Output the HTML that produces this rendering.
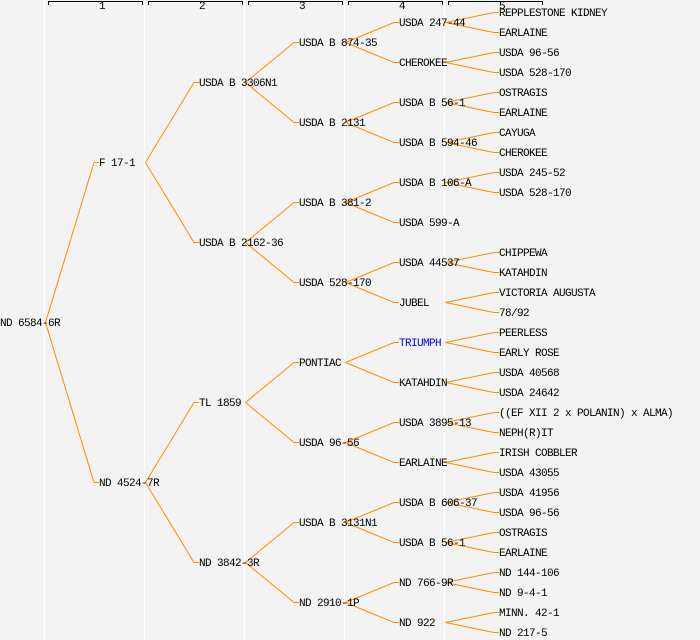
<!DOCTYPE html>
<html><head><meta charset="utf-8"><style>
html,body{margin:0;padding:0;background:#f3f3f3;}
svg{display:block;}
text{font-family:"Liberation Mono",monospace;font-size:11px;letter-spacing:-0.6px;fill:#000;}
</style></head><body>
<svg width="700" height="640" viewBox="0 0 700 640" xmlns="http://www.w3.org/2000/svg">
<rect width="700" height="640" fill="#f3f3f3"/>
<g stroke="#fff" stroke-width="1">
<line x1="44.5" y1="0" x2="44.5" y2="640"/><line x1="144.5" y1="0" x2="144.5" y2="640"/><line x1="244.5" y1="0" x2="244.5" y2="640"/><line x1="344.5" y1="0" x2="344.5" y2="640"/><line x1="444.5" y1="0" x2="444.5" y2="640"/>
</g>
<g stroke="#000" stroke-width="1" fill="none">
<path d="M48.5,5 V1.5 H142.5 V5"/><path d="M148.5,5 V1.5 H242.5 V5"/><path d="M248.5,5 V1.5 H342.5 V5"/><path d="M348.5,5 V1.5 H442.5 V5"/><path d="M448.5,5 V1.5 H542.5 V5"/>
</g>
<g style="font-size:8px;letter-spacing:0" text-anchor="middle">
<text x="102" y="9">1</text><text x="202" y="9">2</text><text x="302" y="9">3</text><text x="402" y="9">4</text><text x="502" y="9">5</text>
</g>
<g id="lines" stroke="#ff8c00" stroke-width="1" fill="none"></g>
<g id="labels"></g>
</svg>
<script>
var tree=["ND 6584-6R",[
 ["F 17-1",[
  ["USDA B 3306N1",[
   ["USDA B 874-35",[["USDA 247-44",["REPPLESTONE KIDNEY","EARLAINE"]],["CHEROKEE",["USDA 96-56","USDA 528-170"]]]],
   ["USDA B 2131",[["USDA B 56-1",["OSTRAGIS","EARLAINE"]],["USDA B 594-46",["CAYUGA","CHEROKEE"]]]]]],
  ["USDA B 2162-36",[
   ["USDA B 381-2",[["USDA B 106-A",["USDA 245-52","USDA 528-170"]],["USDA 599-A",[]]]],
   ["USDA 528-170",[["USDA 44537",["CHIPPEWA","KATAHDIN"]],["JUBEL",["VICTORIA AUGUSTA","78/92"]]]]]]]],
 ["ND 4524-7R",[
  ["TL 1859",[
   ["PONTIAC",[["TRIUMPH",["PEERLESS","EARLY ROSE"]],["KATAHDIN",["USDA 40568","USDA 24642"]]]],
   ["USDA 96-56",[["USDA 3895-13",["((EF XII 2 x POLANIN) x ALMA)","NEPH(R)IT"]],["EARLAINE",["IRISH COBBLER","USDA 43055"]]]]]],
  ["ND 3842-3R",[
   ["USDA B 3131N1",[["USDA B 606-37",["USDA 41956","USDA 96-56"]],["USDA B 56-1",["OSTRAGIS","EARLAINE"]]]],
   ["ND 2910-1P",[["ND 766-9R",["ND 144-106","ND 9-4-1"]],["ND 922",["MINN. 42-1","ND 217-5"]]]]]]]]]];
var NS="http://www.w3.org/2000/svg",L=document.getElementById("lines"),T=document.getElementById("labels");
function node(n,d,top,h){
 var name=typeof n==="string"?n:n[0],kids=typeof n==="string"?[]:n[1];
 var y=top+h/2,x=d===0?0:d*100-1;
 var t=document.createElementNS(NS,"text");t.setAttribute("x",x);t.setAttribute("y",y+4);t.textContent=name;
 if(name==="TRIUMPH")t.setAttribute("style","fill:#0000ff");
 T.appendChild(t);
 var ch=h/2;
 kids.forEach(function(k,i){
  var cy=top+i*ch+ch/2,cx=(d+1)*100-1,sx=d*100+45.5;
  var p=document.createElementNS(NS,"polyline");
  p.setAttribute("points",sx+","+(y+0.5)+" "+(cx-5)+","+(cy+0.5)+" "+cx+","+(cy+0.5));
  L.appendChild(p);
  node(k,d+1,top+i*ch,ch);
 });
}
node(tree,0,2,640);
</script>
</body></html>
